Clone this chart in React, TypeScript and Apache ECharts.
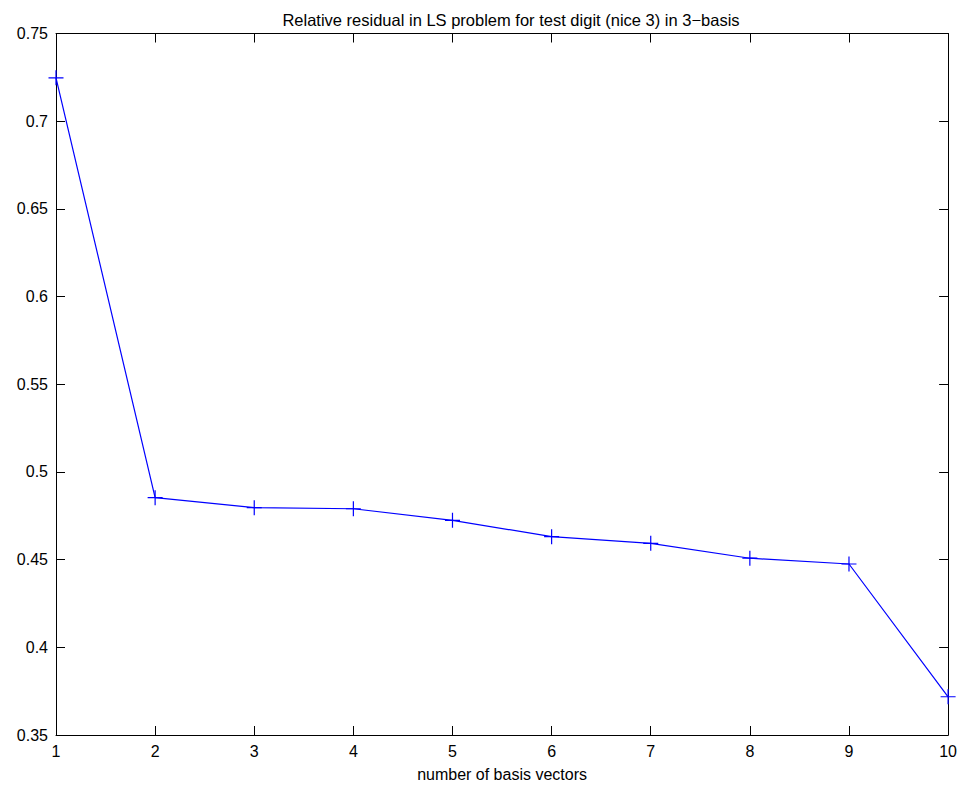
import React, { useEffect, useRef } from "react";
import * as echarts from "echarts";

const basisCounts = [1, 2, 3, 4, 5, 6, 7, 8, 9, 10];
const residuals = [0.7247, 0.4853, 0.4796, 0.479, 0.4724, 0.4631, 0.4593, 0.4508, 0.4475, 0.3718];
const titleText = "Relative residual in LS problem for test digit (nice 3) in 3\u2212basis";
const xLabel = "number of basis vectors";

const FONT = "'Liberation Sans', Arial, Helvetica, sans-serif";

export default function App() {
  const ref = useRef<HTMLDivElement>(null);
  useEffect(() => {
    if (!ref.current) return;
    const chart = echarts.init(ref.current, null, { renderer: "svg" });
    const axisLine = { show: true, lineStyle: { color: "#000", width: 1 } };
    const axisTick = { show: true, inside: true, length: 9, lineStyle: { color: "#000", width: 1 } };
    const yFmt = (v: number) => parseFloat(v.toFixed(2)).toString();
    chart.setOption({
      animation: false,
      backgroundColor: "#fff",
      title: {
        text: titleText,
        left: 506,
        textAlign: "center",
        top: 6,
        textStyle: { fontFamily: FONT, fontSize: 16.5, fontWeight: "normal", color: "#000" },
      },
      grid: { left: 56, right: 11, top: 33.5, bottom: 49.7, containLabel: false },
      xAxis: [
        {
          type: "value",
          position: "bottom",
          min: 1,
          max: 10,
          interval: 1,
          name: xLabel,
          nameLocation: "middle",
          nameGap: 31,
          nameTextStyle: { fontFamily: FONT, fontSize: 16, color: "#000" },
          axisLine,
          axisTick,
          splitLine: { show: false },
          axisLabel: { fontFamily: FONT, fontSize: 16, color: "#000", margin: 8 },
        },
        {
          type: "value",
          position: "top",
          min: 1,
          max: 10,
          interval: 1,
          axisLine,
          axisTick,
          splitLine: { show: false },
          axisLabel: { show: false },
        },
      ],
      yAxis: [
        {
          type: "value",
          position: "left",
          min: 0.35,
          max: 0.75,
          interval: 0.05,
          axisLine,
          axisTick,
          splitLine: { show: false },
          axisLabel: { fontFamily: FONT, fontSize: 16, color: "#000", margin: 8, formatter: yFmt },
        },
        {
          type: "value",
          position: "right",
          min: 0.35,
          max: 0.75,
          interval: 0.05,
          axisLine,
          axisTick,
          splitLine: { show: false },
          axisLabel: { show: false },
        },
      ],
      series: [
        {
          type: "line",
          data: basisCounts.map((x, i) => [x, residuals[i]]),
          xAxisIndex: 0,
          yAxisIndex: 0,
          symbol: "path://M0,4.6H10V5.4H0Z M4.6,0H5.4V10H4.6Z",
          symbolSize: 15,
          showAllSymbol: true,
          itemStyle: { color: "#0000ff" },
          lineStyle: { color: "#0000ff", width: 1.2 },
          clip: false,
        },
      ],
    });
    return () => chart.dispose();
  }, []);
  return <div ref={ref} style={{ width: 960, height: 787, position: "absolute", left: 0, top: 0 }} />;
}
